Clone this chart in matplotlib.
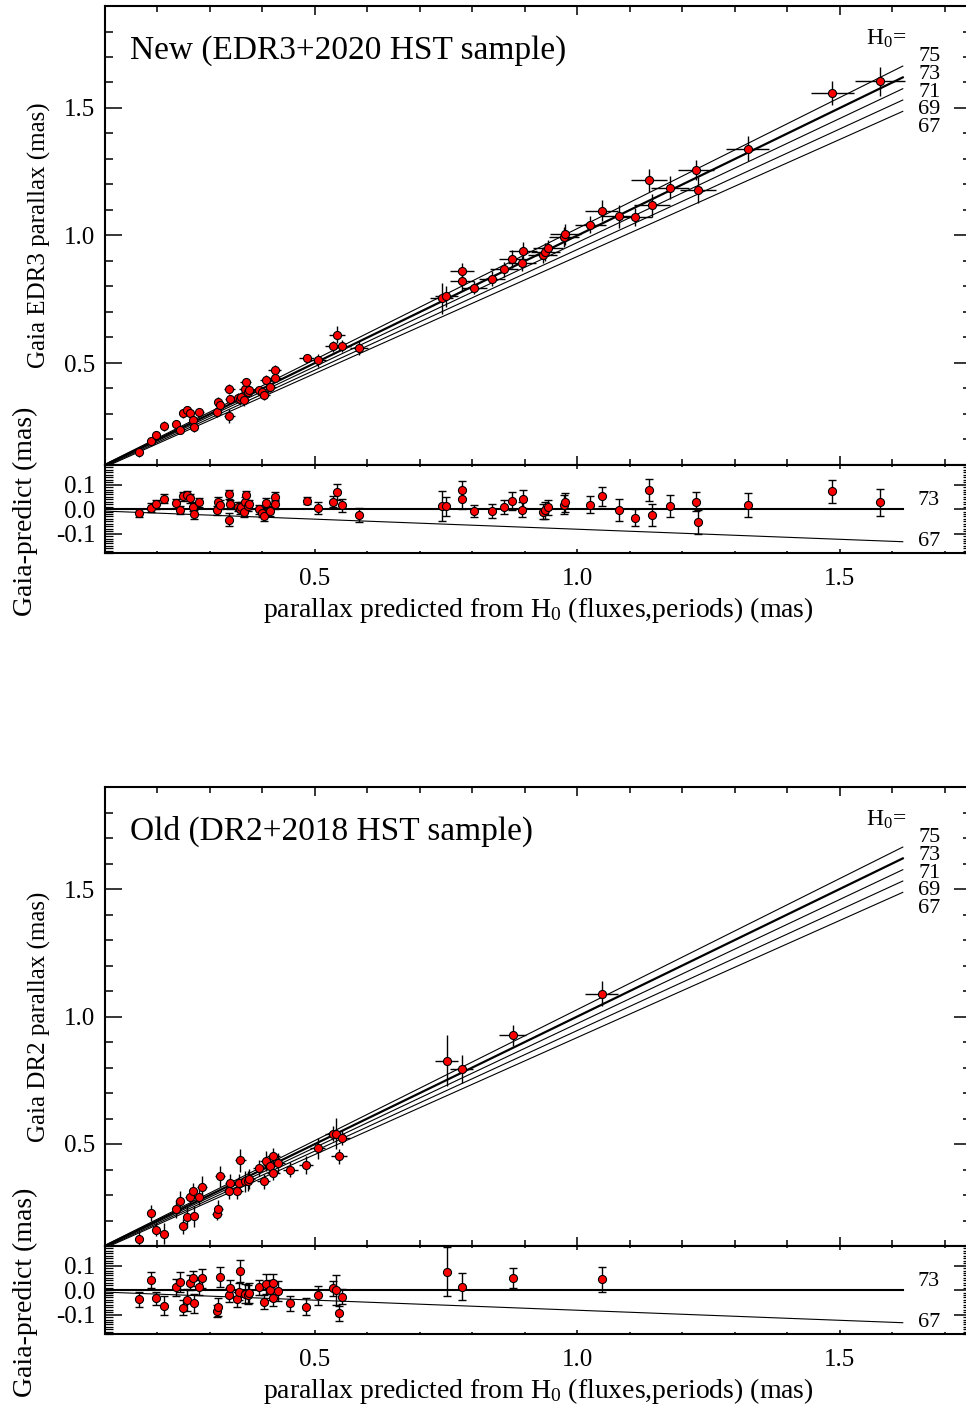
import numpy as np
import matplotlib
matplotlib.use("Agg")
import matplotlib.pyplot as plt
from matplotlib.ticker import MultipleLocator, FixedLocator

plt.rcParams['font.family'] = ['Liberation Serif', 'DejaVu Serif']
plt.rcParams['mathtext.fontset'] = 'custom'
plt.rcParams['mathtext.rm'] = 'Liberation Serif'
plt.rcParams['mathtext.it'] = 'Liberation Serif:italic'

# H0 values of the model lines (predictions made with 73)
h0_lines = [75, 73, 71, 69, 67]
h0_ref = 73
x_line_end = 1.62

# New sample: EDR3 + 2020 HST
pred_new = [0.165, 0.188, 0.198, 0.212, 0.235, 0.243, 0.249, 0.256, 0.261, 0.268,
            0.270, 0.280, 0.313, 0.316, 0.319, 0.337, 0.337, 0.339, 0.353, 0.357,
            0.360, 0.364, 0.367, 0.368, 0.372, 0.375, 0.394, 0.400, 0.403, 0.407,
            0.414, 0.423, 0.423, 0.484, 0.506, 0.535, 0.542, 0.552, 0.584, 0.742,
            0.750, 0.780, 0.780, 0.804, 0.838, 0.860, 0.876, 0.894, 0.897, 0.934,
            0.939, 0.944, 0.975, 0.977, 1.025, 1.046, 1.080, 1.109, 1.137, 1.142,
            1.176, 1.226, 1.230, 1.325, 1.486, 1.577]
resid_new = [-0.015, 0.005, 0.019, 0.042, 0.024, -0.004, 0.053, 0.059, 0.044, 0.010,
             -0.022, 0.027, -0.005, 0.031, 0.018, 0.060, -0.044, 0.019, 0.010, 0.000,
             0.007, -0.011, 0.030, 0.057, 0.014, 0.019, -0.001, -0.014, -0.027, 0.026,
             -0.007, 0.050, 0.020, 0.035, 0.004, 0.030, 0.069, 0.015, -0.024, 0.012,
             0.011, 0.079, 0.042, -0.008, -0.008, 0.008, 0.033, -0.003, 0.041, -0.011,
             -0.005, 0.007, 0.018, 0.027, 0.018, 0.052, -0.004, -0.035, 0.079, -0.024,
             0.011, 0.031, -0.052, 0.016, 0.072, 0.027]
yerr_new = [0.017, 0.018, 0.018, 0.019, 0.018, 0.018, 0.018, 0.016, 0.018, 0.018,
            0.018, 0.018, 0.018, 0.018, 0.018, 0.019, 0.027, 0.018, 0.018, 0.020,
            0.020, 0.020, 0.020, 0.018, 0.020, 0.020, 0.018, 0.020, 0.022, 0.018,
            0.020, 0.018, 0.018, 0.016, 0.025, 0.023, 0.033, 0.025, 0.027, 0.060,
            0.040, 0.035, 0.040, 0.025, 0.030, 0.030, 0.035, 0.030, 0.035, 0.030,
            0.035, 0.030, 0.040, 0.040, 0.035, 0.040, 0.045, 0.035, 0.045, 0.045,
            0.045, 0.040, 0.050, 0.050, 0.047, 0.055]
xerr_new = [0.005, 0.006, 0.006, 0.006, 0.007, 0.007, 0.007, 0.008, 0.008, 0.008,
            0.008, 0.008, 0.009, 0.009, 0.010, 0.010, 0.010, 0.010, 0.011, 0.011,
            0.011, 0.011, 0.011, 0.011, 0.011, 0.011, 0.012, 0.012, 0.012, 0.012,
            0.012, 0.013, 0.013, 0.015, 0.015, 0.016, 0.016, 0.017, 0.018, 0.022,
            0.022, 0.023, 0.023, 0.024, 0.025, 0.026, 0.026, 0.027, 0.027, 0.028,
            0.028, 0.028, 0.029, 0.029, 0.030, 0.031, 0.033, 0.033, 0.034, 0.035,
            0.036, 0.035, 0.035, 0.041, 0.041, 0.048]

# Old sample: DR2 + 2018 HST
pred_old = [0.165, 0.188, 0.198, 0.212, 0.235, 0.243, 0.249, 0.256, 0.261, 0.268,
            0.270, 0.280, 0.285, 0.313, 0.316, 0.319, 0.336, 0.339, 0.351, 0.355,
            0.358, 0.367, 0.372, 0.374, 0.394, 0.402, 0.407, 0.414, 0.421, 0.421,
            0.430, 0.453, 0.483, 0.505, 0.534, 0.541, 0.546, 0.552, 0.751, 0.780,
            0.877, 1.046]
resid_old = [-0.038, 0.041, -0.034, -0.063, 0.011, 0.033, -0.072, -0.041, 0.031, 0.048,
             -0.054, 0.011, 0.048, -0.086, -0.069, 0.054, -0.020, 0.007, -0.037, -0.007,
             0.079, -0.014, -0.018, -0.011, 0.012, -0.048, 0.026, 0.000, -0.034, 0.030,
             -0.004, -0.054, -0.067, -0.022, 0.007, 0.000, -0.095, -0.027, 0.075, 0.014,
             0.049, 0.044]
yerr_old = [0.031, 0.031, 0.025, 0.040, 0.035, 0.040, 0.030, 0.045, 0.030, 0.030,
            0.040, 0.030, 0.040, 0.025, 0.035, 0.040, 0.030, 0.035, 0.030, 0.035,
            0.045, 0.040, 0.040, 0.040, 0.030, 0.030, 0.040, 0.040, 0.030, 0.035,
            0.040, 0.030, 0.035, 0.040, 0.030, 0.060, 0.030, 0.030, 0.100, 0.055,
            0.040, 0.050]
xerr_old = [0.005, 0.006, 0.006, 0.006, 0.007, 0.007, 0.007, 0.008, 0.008, 0.008,
            0.008, 0.008, 0.009, 0.009, 0.009, 0.010, 0.010, 0.010, 0.011, 0.011,
            0.011, 0.011, 0.011, 0.011, 0.012, 0.012, 0.012, 0.012, 0.013, 0.013,
            0.013, 0.014, 0.014, 0.015, 0.014, 0.015, 0.015, 0.015, 0.022, 0.022,
            0.026, 0.031]

W, H = 966, 1409
fig = plt.figure(figsize=(W / 100, H / 100), dpi=100)

left = 105 / W
width = (971 - 105) / W


def style_axes(ax, main):
    for s in ax.spines.values():
        s.set_linewidth(1.5)
    ax.set_xlim(0.1, 1.75)
    ax.xaxis.set_major_locator(FixedLocator([0.5, 1.0, 1.5]))
    ax.xaxis.set_minor_locator(MultipleLocator(0.1))
    ax.tick_params(which='both', direction='in', top=True, right=True, width=1.1, labelsize=18)
    if main:
        ax.set_ylim(0.1, 1.9)
        ax.yaxis.set_major_locator(FixedLocator([0.5, 1.0, 1.5]))
        ax.yaxis.set_minor_locator(MultipleLocator(0.1))
        ax.tick_params(axis='x', which='major', length=6.5, labelbottom=False)
        ax.tick_params(axis='x', which='minor', length=4)
        ax.tick_params(axis='y', which='major', length=12, pad=7)
        ax.tick_params(axis='y', which='minor', length=6)
    else:
        ax.set_ylim(-0.18, 0.18)
        ax.yaxis.set_major_locator(FixedLocator([-0.1, 0.0, 0.1]))
        ax.yaxis.set_minor_locator(MultipleLocator(0.01))
        ax.set_yticklabels(['-0.1', '0.0', '0.1'])
        ax.tick_params(axis='x', which='major', length=3, pad=11)
        ax.tick_params(axis='x', which='minor', length=1.5)
        ax.tick_params(axis='y', which='major', length=12, pad=7)
        ax.tick_params(axis='y', which='minor', length=6, width=0.9)


def draw_pair(y_main, y_res, pred, resid, xerr, yerr, title, ylab):
    pred = np.array(pred)
    resid = np.array(resid)
    gaia = pred + resid

    ax = fig.add_axes([left, y_main, width, 459 / H])
    style_axes(ax, True)
    xl = np.array([0.0, x_line_end])
    for h in h0_lines:
        lw = 1.6 if h == h0_ref else 0.8
        ax.plot(xl, xl * h / h0_ref, color='k', lw=lw, zorder=1)
    ax.errorbar(pred, gaia, xerr=xerr, yerr=yerr, fmt='none', ecolor='k',
                elinewidth=1.0, capsize=0, zorder=2)
    ax.plot(pred, gaia, 'o', mfc='red', mec='k', ms=5.8, mew=0.8, zorder=3)
    ax.text(0.0289, 0.8845, title, transform=ax.transAxes, fontsize=24,
            ha='left', va='baseline')
    ax.text(0.879, 0.915, r'H$_{\mathrm{0}}$=', transform=ax.transAxes,
            fontsize=17, ha='left', va='baseline')
    for i, h in enumerate(h0_lines):
        ax.text(0.9388, 0.889 - i * 0.0383, str(h), transform=ax.transAxes,
                fontsize=16, ha='left', va='center')
    ax.set_ylabel(ylab, fontsize=18)
    ax.yaxis.set_label_coords(-0.0624, 0.5)

    axr = fig.add_axes([left, y_res, width, 88.2 / H])
    style_axes(axr, False)
    for h in (h0_ref, 67):
        lw = 1.5 if h == h0_ref else 0.8
        axr.plot(xl, xl * h / h0_ref - xl, color='k', lw=lw, zorder=1)
        yy = 0.036 if h == h0_ref else -0.133
        axr.text(1.649, yy, str(h), fontsize=16, ha='left', va='center')
    axr.errorbar(pred, resid, yerr=yerr, fmt='none', ecolor='k',
                 elinewidth=1.0, capsize=3, capthick=1.0, zorder=2)
    axr.plot(pred, resid, 'o', mfc='red', mec='k', ms=5.8, mew=0.8, zorder=3)
    axr.set_ylabel('Gaia-predict (mas)', fontsize=20)
    axr.yaxis.set_label_coords(-0.0774, 0.47)
    axr.set_xlabel(r'parallax predicted from H$_{\mathrm{0}}$ (fluxes,periods) (mas)',
                   fontsize=20, labelpad=3)


draw_pair(1 - 465 / H, 1 - 553.2 / H, pred_new, resid_new, xerr_new, yerr_new,
          'New (EDR3+2020 HST sample)', 'Gaia EDR3 parallax (mas)')
draw_pair(1 - 1246 / H, 1 - 1334.2 / H, pred_old, resid_old, xerr_old, yerr_old,
          'Old (DR2+2018 HST sample)', 'Gaia DR2 parallax (mas)')

fig.savefig('out.png', dpi=100)
